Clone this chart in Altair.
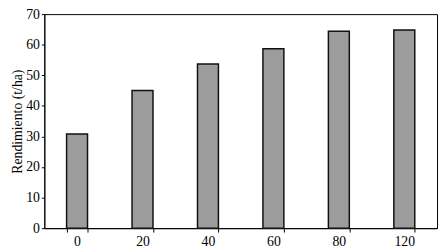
import altair as alt
import pandas as pd

doses = ["0", "20", "40", "60", "80", "120"]
yields = [30.8, 45.0, 53.7, 58.7, 64.4, 64.8]

df = pd.DataFrame({"dosis": doses, "rendimiento": yields})

font = "Liberation Serif"

chart = alt.Chart(df).mark_bar(
    fill="#9c9c9c", stroke="#111111", strokeWidth=1.5
).encode(
    x=alt.X("dosis:N", sort=doses,
            scale=alt.Scale(paddingInner=0.68, paddingOuter=0.34),
            axis=alt.Axis(title=None, labelAngle=0, tickBand="extent",
                          labelFont=font, labelFontSize=14, labelColor="black",
                          labelPadding=3, tickSize=4, tickColor="black",
                          domainColor="black")),
    y=alt.Y("rendimiento:Q", scale=alt.Scale(domain=[0, 70], nice=False),
            axis=alt.Axis(title="Rendimiento (t/ha)", values=list(range(0, 71, 10)),
                          titleFont=font, titleFontSize=14, titleFontWeight="normal",
                          titleColor="black", titlePadding=1,
                          labelFont=font, labelFontSize=14, labelColor="black",
                          labelPadding=2, tickSize=3, tickColor="black",
                          domainColor="black", grid=False))
).properties(
    width=400, height=218,
    autosize=alt.AutoSizeParams(type="none"),
    padding={"left": 37, "top": 4, "right": 2, "bottom": 20}
).configure_view(stroke="black", strokeWidth=1)

chart.save("out.html", embed_options={"renderer": "svg", "actions": False})
